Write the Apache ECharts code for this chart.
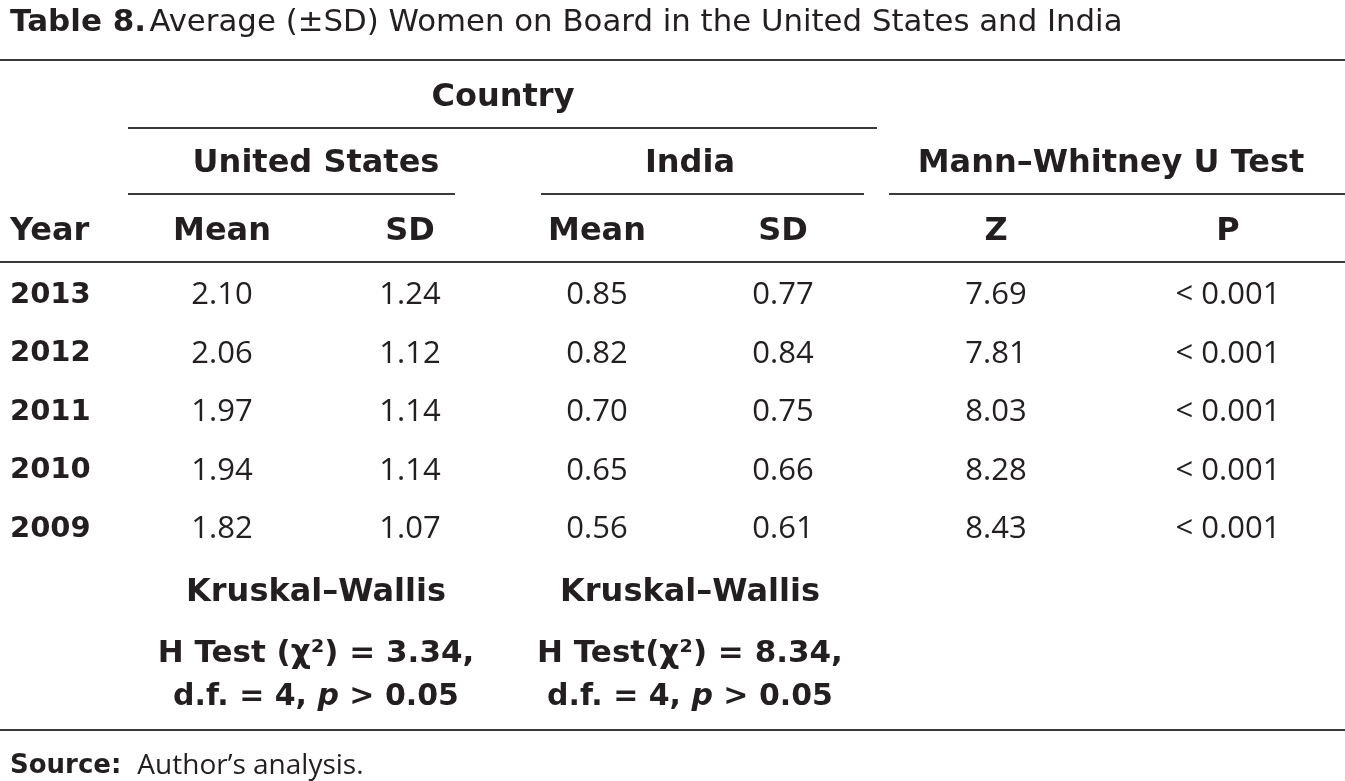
<!DOCTYPE html>
<html>
<head>
<meta charset="utf-8">
<script src="https://cdn.jsdelivr.net/npm/echarts@6/dist/echarts.min.js"></script>
<style>
  html, body { margin: 0; padding: 0; background: #fff; }
  #main { width: 1345px; height: 781px; }
</style>
</head>
<body>
<div id="main"></div>
<script>
// table values
const years = ['2013', '2012', '2011', '2010', '2009'];
const usMean = [2.10, 2.06, 1.97, 1.94, 1.82];
const usSD = [1.24, 1.12, 1.14, 1.14, 1.07];
const indiaMean = [0.85, 0.82, 0.70, 0.65, 0.56];
const indiaSD = [0.77, 0.84, 0.75, 0.66, 0.61];
const zValues = [7.69, 7.81, 8.03, 8.28, 8.43];
const pValues = ['< 0.001', '< 0.001', '< 0.001', '< 0.001', '< 0.001'];

const usKW = { chi: '3.34', df: 4, p: '0.05' };
const indiaKW = { chi: '8.34', df: 4, p: '0.05' };

// layout (column centres in px)
const colX = { year: 10, usMean: 222, usSD: 410, inMean: 597, inSD: 783, z: 996, p: 1228 };
const FONT = '"Open Sans", Lato, sans-serif';
const FONT_B = '"DejaVu Sans", "Open Sans", sans-serif';
const INK = '#231f20';
const RULE = '#3a3a3a';

const chart = echarts.init(document.getElementById('main'), null, { renderer: 'canvas' });

function cellSeries(name, x, values, fmt, bold, align) {
    return {
        name: name,
        type: 'scatter',
        symbolSize: 0,
        silent: true,
        itemStyle: { opacity: 1 },
        data: values.map(function (v, i) { return [x, years[i], v]; }),
        label: {
            show: true,
            position: 'inside',
            align: align || 'center',
            verticalAlign: 'middle',
            formatter: function (p) { return fmt(p.value[2]); },
            color: INK,
            opacity: 1,
            fontFamily: bold ? FONT_B : FONT,
            fontSize: bold ? 29 : 31,
            fontWeight: bold ? 'bold' : 'normal'
        }
    };
}

const fix2 = function (v) { return v.toFixed(2); };
const same = function (v) { return String(v); };

function hline(x1, x2, y, w) {
    return { type: 'line', shape: { x1: x1, y1: y, x2: x2, y2: y }, style: { stroke: RULE, lineWidth: w || 2 }, silent: true };
}
function head(x, y, text, size, align) {
    return {
        type: 'text', x: x, y: y + 2, silent: true,
        style: {
            text: text,
            fill: INK,
            font: 'bold ' + (size || 32) + 'px ' + FONT_B,
            align: align || 'center',
            verticalAlign: 'middle'
        }
    };
}
function kwLines(x, kw, gap) {
    const rich = {
        b: { fontFamily: FONT_B, fontWeight: 'bold', fontSize: 30, fill: INK },
        i: { fontFamily: FONT_B, fontStyle: 'italic', fontWeight: 'bold', fontSize: 30, fill: INK }
    };
    return [
        head(x, 591, 'Kruskal–Wallis', 32),
        head(x, 652, 'H Test' + gap + '(χ²) = ' + kw.chi + ',', 31),
        {
            type: 'text', x: x, y: 697, silent: true,
            style: {
                text: '{b|d.f. = ' + kw.df + ', }{i|p}{b| > ' + kw.p + '}',
                align: 'center', verticalAlign: 'middle',
                rich: rich
            }
        }
    ];
}

const graphics = [
    {
        type: 'text', x: 10, y: 23, silent: true,
        style: {
            text: '{b|Table 8.} {r|Average (±SD) Women on Board in the United States and India}',
            align: 'left', verticalAlign: 'middle',
            rich: {
                b: { fontFamily: FONT_B, fontWeight: 'bold', fontSize: 31, fill: INK },
                r: { fontFamily: FONT_B, fontSize: 30.8, fill: INK }
            }
        }
    },
    hline(0, 1345, 60),
    head(503, 96, 'Country'),
    hline(128, 877, 128),
    head(316, 162, 'United States'),
    head(690, 162, 'India'),
    head(1111, 162, 'Mann–Whitney U Test'),
    hline(128, 455, 194),
    hline(541, 864, 194),
    hline(889, 1345, 194),
    head(colX.year, 230, 'Year', 32, 'left'),
    head(colX.usMean, 230, 'Mean'),
    head(colX.usSD, 230, 'SD'),
    head(colX.inMean, 230, 'Mean'),
    head(colX.inSD, 230, 'SD'),
    head(colX.z, 230, 'Z'),
    head(colX.p, 230, 'P'),
    hline(0, 1345, 262),
    hline(0, 1345, 730),
    {
        type: 'text', x: 10, y: 766, silent: true,
        style: {
            text: '{b|Source:}{r|Author’s analysis.}',
            align: 'left', verticalAlign: 'middle',
            rich: {
                b: { fontFamily: FONT_B, fontWeight: 'bold', fontSize: 26, fill: INK },
                r: { fontFamily: FONT, fontSize: 28, fill: INK, padding: [0, 0, 0, 16] }
            }
        }
    }
].concat(kwLines(316, usKW, ' ')).concat(kwLines(690, indiaKW, ''));

chart.setOption({
    animation: false,
    backgroundColor: '#fff',
    grid: { left: 0, right: 0, top: 266, height: 292.5 },
    xAxis: { type: 'value', min: 0, max: 1345, show: false },
    yAxis: { type: 'category', data: years, inverse: true, show: false },
    graphic: graphics,
    series: [
        cellSeries('year', colX.year, years, same, true, 'left'),
        cellSeries('usMean', colX.usMean, usMean, fix2),
        cellSeries('usSD', colX.usSD, usSD, fix2),
        cellSeries('indiaMean', colX.inMean, indiaMean, fix2),
        cellSeries('indiaSD', colX.inSD, indiaSD, fix2),
        cellSeries('z', colX.z, zValues, fix2),
        cellSeries('p', colX.p, pValues, same)
    ]
});

window.onresize = function () {
    chart.resize();
};
</script>
</body>
</html>
